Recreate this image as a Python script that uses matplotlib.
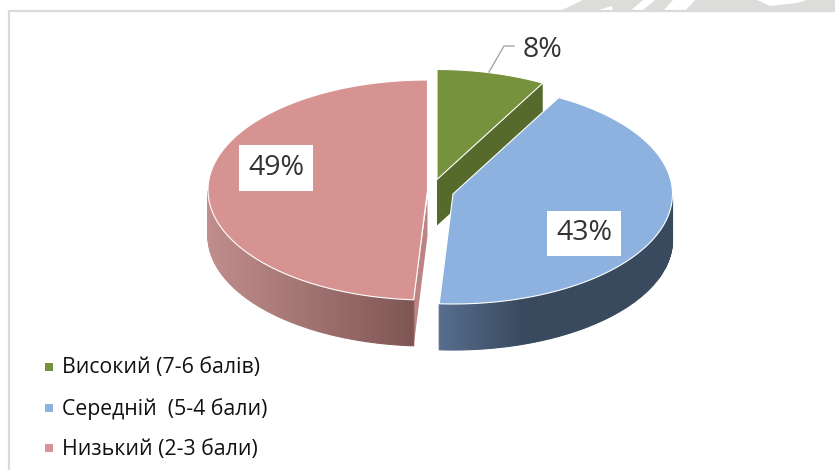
import numpy as np
import matplotlib
matplotlib.use("Agg")
import matplotlib.pyplot as plt
from matplotlib.colors import to_rgb

labels = ["Високий (7-6 балів)", "Середній  (5-4 бали)", "Низький (2-3 бали)"]
values = [8, 43, 49]
pct_labels = ["8%", "43%", "49%"]

top_colors = ["#76923C", "#8DB2DF", "#D79391"]
side_left = ["#556A2B", "#566D8D", "#C08E8C"]
side_right = ["#556A2B", "#3A4A5E", "#7F5554"]
cut_colors = ["#556A2B", "#3A4A5E", "#BC8583"]

# pie geometry in pixels
centers = [(437, 179.5), (453, 194), (427.5, 190)]
rx = 219.5
ry = 110
depth = 46

plt.rcParams["font.family"] = ["Open Sans", "DejaVu Sans"]

fig = plt.figure(figsize=(8.35, 4.7), dpi=100)
ax = fig.add_axes([0, 0, 1, 1])
ax.set_xlim(0, 835)
ax.set_ylim(470, 0)
ax.axis("off")

# page border and the bit of watermark above it
ax.plot([9, 9, 835], [470, 11, 11], color="#DADADA", lw=1.6, zorder=1)
wm_shapes = [
    ([560, 583, 643, 630, 613, 612, 595], [11, 0, 0, 11, 11, 6, 11]),
    ([642, 655, 673, 663], [11, 0, 0, 11]),
    ([685, 695, 757, 770, 797, 807, 835, 835], [11, 0, 0, 6, 3, 0, 0, 11]),
]
for xs, ys in wm_shapes:
    ax.fill(xs, ys, color="#DCDCDB", lw=0, zorder=1)


def rim(cx, cy, th):
    # th is clockwise from 12 o'clock
    return cx + rx * np.sin(th), cy - ry * np.cos(th)


edges = np.radians(np.cumsum([0] + values) * 3.6)

# draw order: green, pink, blue so the blue top hides the green cut
for i in [0, 2, 1]:
    cx, cy = centers[i]
    a, b = edges[i], edges[i + 1]
    th = np.linspace(a, b, 200)
    x, y = rim(cx, cy, th)

    # cut faces
    if i == 0:
        ax.fill([cx, x[-1], x[-1], cx], [cy, y[-1], y[-1] + depth, cy + depth],
                color=cut_colors[i], lw=0, zorder=3)
    if i == 2:
        ax.fill([cx, x[0], x[0], cx], [cy + 8, y[0], y[0] + depth, cy + depth],
                color=cut_colors[i], lw=0, zorder=3)

    # outer wall, front half only, shaded left to right
    front = (th >= np.pi / 2) & (th <= 3 * np.pi / 2)
    if front.any():
        xf, yf = x[front], y[front]
        order = np.argsort(xf)
        xf, yf = xf[order], yf[order]
        c0 = np.array(to_rgb(side_left[i]))
        c1 = np.array(to_rgb(side_right[i]))
        for k in range(len(xf) - 1):
            t = (xf[k] - xf[0]) / (xf[-1] - xf[0])
            if i == 1:
                t = min(t / 0.35, 1)
            col = c0 + (c1 - c0) * t
            ax.fill([xf[k], xf[k + 1], xf[k + 1], xf[k]],
                    [yf[k], yf[k + 1], yf[k + 1] + depth, yf[k] + depth],
                    facecolor=col, edgecolor=col, lw=0.8, zorder=3)

    # top face
    ax.fill(np.r_[cx, x], np.r_[cy, y], facecolor=top_colors[i],
            edgecolor="white", lw=0.8, zorder=4)

# percent labels
ax.text(542, 50, pct_labels[0], fontsize=20.5, color="#333333",
        ha="center", va="center", zorder=6)
ax.text(584, 233.5, pct_labels[1], fontsize=20.5, color="#333333", ha="center", va="center",
        zorder=6, bbox=dict(fc="white", ec="none", boxstyle="square,pad=0.3"))
ax.text(276, 168, pct_labels[2], fontsize=20.5, color="#333333", ha="center", va="center",
        zorder=6, bbox=dict(fc="white", ec="none", boxstyle="square,pad=0.3"))
ax.plot([489, 504, 514], [72, 46, 46], color="#A6A6A6", lw=1, zorder=5)

# legend
legend_y = [367, 408, 448]
for name, col, ly in zip(labels, top_colors, legend_y):
    ax.scatter([49], [ly], marker="s", s=33, color=col, lw=0, zorder=5)
    ax.text(62.5, ly + 1, name, fontsize=15.3, color="#111111", va="center", zorder=5)

fig.savefig("out.png", dpi=100)
